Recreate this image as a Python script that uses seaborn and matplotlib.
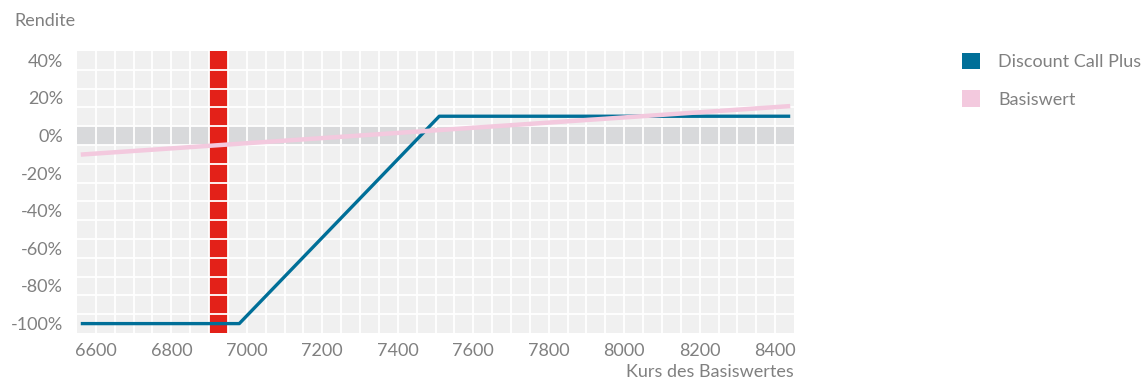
import numpy as np
import pandas as pd
import matplotlib
matplotlib.use("Agg")
import matplotlib.pyplot as plt
from matplotlib.patches import Patch
import seaborn as sns

# ---- data ----
dcp_kurs = [6560, 6980, 7510, 8440]
dcp_rendite = [-100, -100, 10.3, 10.3]
basis_kurs = [6560, 8440]
basis_rendite = [-10.1, 15.7]
series_names = ["Discount Call Plus", "Basiswert"]
x_ticks = [6600, 6800, 7000, 7200, 7400, 7600, 7800, 8000, 8200, 8400]
y_ticks = [-100, -80, -60, -40, -20, 0, 20, 40]
y_tick_labels = ["-100%", "-80%", "-60%", "-40%", "-20%", "0%", "20%", "40%"]
red_band = (6900, 6950)

BLUE = "#006f98"
PINK = "#f3c9de"
RED = "#e32119"
BG = "#f0f0f0"
BAND = "#d8d9db"
TXT = "#808080"

sns.set_style("white")
plt.rcParams["font.family"] = ["Lato", "DejaVu Sans"]

df = pd.concat([
    pd.DataFrame({"Kurs": dcp_kurs, "Rendite": dcp_rendite, "Serie": series_names[0]}),
    pd.DataFrame({"Kurs": basis_kurs, "Rendite": basis_rendite, "Serie": series_names[1]}),
])

fig = plt.figure(figsize=(11.43, 3.83), dpi=100)
ax = fig.add_axes([77/1143, 1-333/383, (794-77)/1143, (333-51)/383])
ax.set_facecolor(BG)

sns.lineplot(data=df, x="Kurs", y="Rendite", hue="Serie",
             palette={series_names[0]: BLUE, series_names[1]: PINK},
             ax=ax, legend=False, sort=False, estimator=None)
for ln in ax.get_lines():
    if matplotlib.colors.to_hex(ln.get_color()) == BLUE:
        ln.set_linewidth(2.4)
        ln.set_zorder(3)
    else:
        ln.set_linewidth(3.2)
        ln.set_zorder(4)
    ln.set_solid_capstyle("butt")

ax.axhspan(-5, 5, color=BAND, zorder=0.5, lw=0)
ax.axvspan(red_band[0], red_band[1], color=RED, zorder=0.6, lw=0)

for xv in np.arange(6600, 8450, 50):
    ax.axvline(xv, color="white", lw=1.3, zorder=1)
for yv in np.arange(-95, 45, 10):
    ax.axhline(yv, color="white", lw=1.3, zorder=1)

ax.set_xlim(6550, 8450)
ax.set_ylim(-105, 45)

for s in ax.spines.values():
    s.set_visible(False)

ax.set_xticks(x_ticks)
ax.set_xticklabels([str(t) for t in x_ticks])
ax.set_yticks(y_ticks)
ax.set_yticklabels(y_tick_labels)
ax.tick_params(axis="both", length=0, labelsize=13, labelcolor=TXT)
ax.tick_params(axis="y", pad=10)
ax.tick_params(axis="x", pad=7)
ax.set_xlabel("")
ax.set_ylabel("")

fig.text(14/1143, 1-21/383, "Rendite", fontsize=13, color=TXT, ha="left", va="center")
fig.text(794/1143, 1-372/383, "Kurs des Basiswertes", fontsize=13, color=TXT, ha="right", va="center")

handles = [Patch(facecolor=BLUE, edgecolor="none"), Patch(facecolor=PINK, edgecolor="none")]
leg = fig.legend(handles, series_names, loc="upper left",
                 bbox_to_anchor=(955/1143, 1-46/383), frameon=False,
                 fontsize=13, handlelength=1.0, handleheight=1.0,
                 handletextpad=1.0, labelspacing=1.1, borderaxespad=0)
for t in leg.get_texts():
    t.set_color(TXT)

fig.savefig("out.png", dpi=100)
